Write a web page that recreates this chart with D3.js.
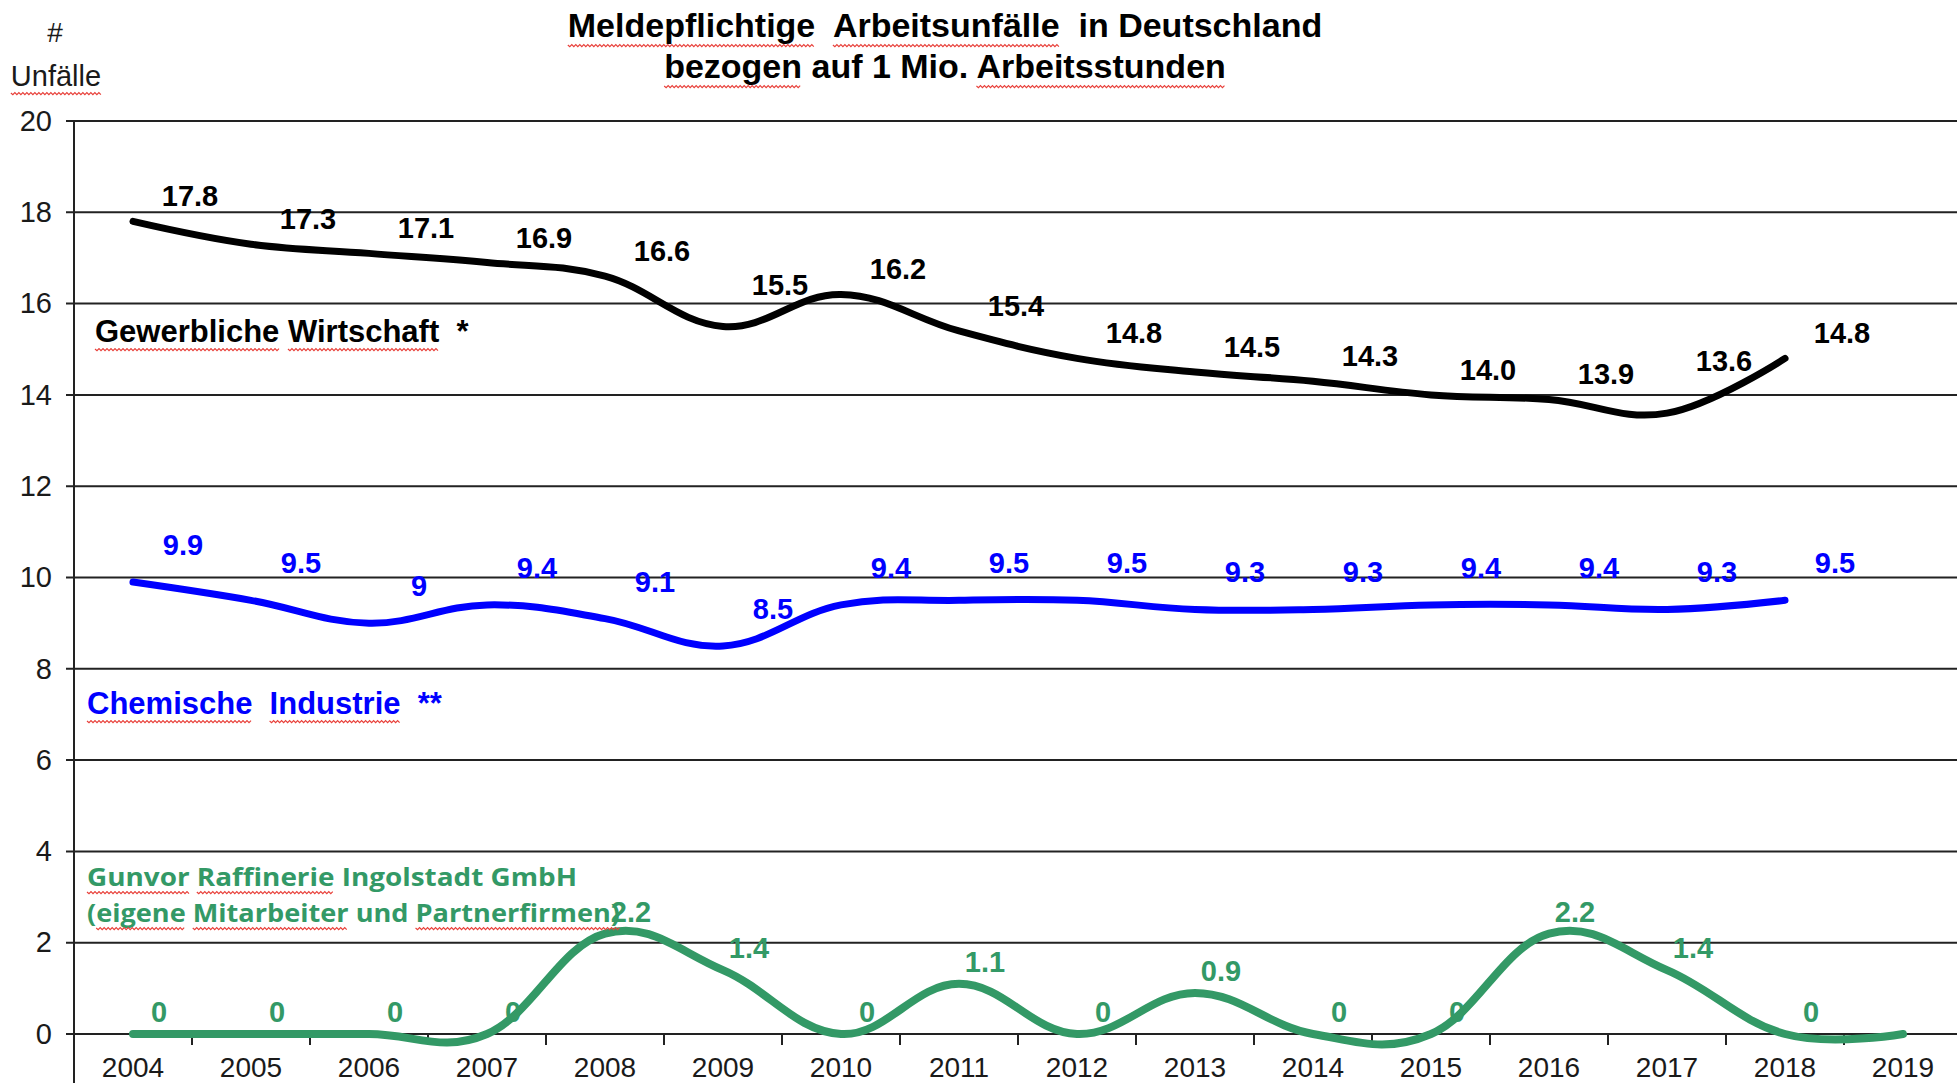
<!DOCTYPE html>
<!-- Meldepflichtige Arbeitsunfaelle, smoothed lines with data labels. -->
<meta charset="utf-8">
<style>
 body { margin: 0; background: #fff; }
 text { font-family: "Liberation Sans", Arial, sans-serif; }
 .grid line { stroke: #222; stroke-width: 2px; }
 .tick text { font-size: 29px; fill: #1a1a1a; }
 .serie { fill: none; stroke-linecap: round; stroke-linejoin: round; }
 .lbl { font-size: 29px; font-weight: bold; }
 .squiggle { fill: none; stroke: #e8403a; stroke-width: 1.2px; }
</style>

<svg class="chart"></svg>

<script src="https://cdn.jsdelivr.net/npm/d3@7"></script>

<script>

 var years = ["2004", "2005", "2006", "2007", "2008", "2009", "2010", "2011",
              "2012", "2013", "2014", "2015", "2016", "2017", "2018", "2019"];
 var gewerblich = [17.8, 17.3, 17.1, 16.9, 16.6, 15.5, 16.2, 15.4, 14.8, 14.5, 14.3, 14.0, 13.9, 13.6, 14.8];
 var chemie = [9.9, 9.5, 9.0, 9.4, 9.1, 8.5, 9.4, 9.5, 9.5, 9.3, 9.3, 9.4, 9.4, 9.3, 9.5];
 var gunvor = [0, 0, 0, 0, 2.2, 1.4, 0, 1.1, 0, 0.9, 0, 0, 2.2, 1.4, 0, 0];
 var gunvorLabeled = 15;   // 2019 has no label
 var yTicks = [0, 2, 4, 6, 8, 10, 12, 14, 16, 18, 20];

 var width = 1957, height = 1083;
 var pLeft = 74, pRight = 1962, pTop = 121, pBottom = 1034;

 var svg = d3.select(".chart").attr("width", width).attr("height", height);

 var x = d3.scaleBand().domain(years).range([pLeft, pRight]);
 var y = d3.scaleLinear().domain([0, 20]).range([pBottom, pTop]);
 var cx = function(i) { return x(years[i]) + x.bandwidth() / 2; };

 // gridlines
 svg.append("g").attr("class", "grid").selectAll("line").data(yTicks).enter()
    .append("line")
    .attr("x1", pLeft - 8).attr("x2", pRight)
    .attr("y1", function(d) { return y(d); }).attr("y2", function(d) { return y(d); });

 // y axis
 var yAxis = svg.append("g").attr("transform", "translate(" + pLeft + ",0)")
    .call(d3.axisLeft(y).tickValues(yTicks).tickSize(0).tickPadding(22));
 yAxis.select(".domain").remove();
 svg.append("line").attr("x1", pLeft).attr("x2", pLeft).attr("y1", pTop).attr("y2", height)
    .attr("stroke", "#222").attr("stroke-width", 2);

 // x axis: labels centred, ticks between categories
 var xAxis = svg.append("g").attr("transform", "translate(0," + pBottom + ")")
    .call(d3.axisBottom(x).tickSize(0).tickPadding(23));
 xAxis.select(".domain").remove();
 xAxis.selectAll(".tick text").style("font-size", "28px");
 svg.append("g").selectAll("line").data(years.slice(1)).enter()
    .append("line")
    .attr("x1", function(d) { return x(d); }).attr("x2", function(d) { return x(d); })
    .attr("y1", pBottom).attr("y2", pBottom + 11)
    .attr("stroke", "#222").attr("stroke-width", 2);

 // label height: for "lift" series the label sits above the curve on its right side
 var series = [
     { vals: gewerblich, n: gewerblich.length, color: "#000", width: 7, lift: true,
       fmt: function(v) { return v.toFixed(1); }, dx: 57, dy: -15 },
     { vals: chemie, n: chemie.length, color: "#0000ff", width: 7, lift: false,
       fmt: function(v) { return String(v); }, dx: 50, dy: -27 },
     { vals: gunvor, n: gunvorLabeled, color: "#339966", width: 8, lift: false,
       fmt: function(v) { return String(v); }, dx: 26, dy: -12 }
 ];

 var line = d3.line()
    .x(function(d, i) { return cx(i); })
    .y(function(d) { return y(d); })
    .curve(d3.curveCardinal.tension(-0.15));

 series.forEach(function(s) {
     svg.append("path").attr("class", "serie")
        .attr("d", line(s.vals))
        .attr("stroke", s.color).attr("stroke-width", s.width);

     svg.append("g").selectAll("text").data(s.vals.slice(0, s.n)).enter()
        .append("text").attr("class", "lbl")
        .attr("text-anchor", "middle")
        .attr("fill", s.color)
        .attr("x", function(d, i) { return cx(i) + s.dx; })
        .attr("y", function(d, i) {
            var v = d;
            if (s.lift && i + 1 < s.vals.length) v = Math.max(d, (d + s.vals[i + 1]) / 2);
            return y(v) + s.dy;
        })
        .text(s.fmt);
 });

 // texts
 var t1 = svg.append("text").attr("x", 945).attr("y", 37).attr("text-anchor", "middle")
    .style("font-size", "34px").style("font-weight", "bold")
    .attr("xml:space", "preserve")
    .text("Meldepflichtige  Arbeitsunfälle  in Deutschland");
 var t2 = svg.append("text").attr("x", 945).attr("y", 78).attr("text-anchor", "middle")
    .style("font-size", "34px").style("font-weight", "bold")
    .text("bezogen auf 1 Mio. Arbeitsstunden");

 svg.append("text").attr("x", 55).attr("y", 42).attr("text-anchor", "middle")
    .style("font-size", "28px").attr("fill", "#1a1a1a").text("#");
 var t3 = svg.append("text").attr("x", 56).attr("y", 86).attr("text-anchor", "middle")
    .style("font-size", "29px").attr("fill", "#1a1a1a").text("Unfälle");

 var t4 = svg.append("text").attr("x", 95).attr("y", 342)
    .style("font-size", "31px").style("font-weight", "bold").attr("fill", "#000")
    .attr("xml:space", "preserve")
    .text("Gewerbliche Wirtschaft  *");
 var t5 = svg.append("text").attr("x", 87).attr("y", 714)
    .style("font-size", "31px").style("font-weight", "bold").attr("fill", "#0000ff")
    .attr("xml:space", "preserve")
    .text("Chemische  Industrie  **");

 var t6 = svg.append("text").attr("x", 87).attr("y", 886)
    .style("font-family", "'Open Sans', sans-serif").style("font-size", "25px").style("font-weight", "bold")
    .attr("fill", "#339966").attr("textLength", 490).attr("lengthAdjust", "spacingAndGlyphs")
    .text("Gunvor Raffinerie Ingolstadt GmbH");
 var t7 = svg.append("text").attr("x", 87).attr("y", 922)
    .style("font-family", "'Open Sans', sans-serif").style("font-size", "25px").style("font-weight", "bold")
    .attr("fill", "#339966").attr("textLength", 533).attr("lengthAdjust", "spacingAndGlyphs")
    .text("(eigene Mitarbeiter und Partnerfirmen)");

 // spell-check squiggles under some words
 function squiggle(sel, words, off) {
     var node = sel.node(), s = node.textContent;
     words.forEach(function(w) {
         var i = s.indexOf(w);
         var p0 = node.getStartPositionOfChar(i);
         var p1 = node.getEndPositionOfChar(i + w.length - 1);
         var yb = p0.y + off, d = "M" + p0.x + "," + yb, k = 0;
         for (var xx = p0.x + 2; xx <= p1.x; xx += 2) {
             k++;
             d += "L" + xx + "," + (yb + (k % 2 ? 1.6 : -0.4));
         }
         svg.append("path").attr("class", "squiggle").attr("d", d);
     });
 }
 squiggle(t1, ["Meldepflichtige", "Arbeitsunfälle"], 8);
 squiggle(t2, ["bezogen", "Arbeitsstunden"], 8);
 squiggle(t3, ["Unfälle"], 7);
 squiggle(t4, ["Gewerbliche", "Wirtschaft"], 7);
 squiggle(t5, ["Chemische", "Industrie"], 7);
 squiggle(t6, ["Gunvor", "Raffinerie"], 6);
 squiggle(t7, ["eigene", "Mitarbeiter", "Partnerfirmen)"], 6);

</script>
